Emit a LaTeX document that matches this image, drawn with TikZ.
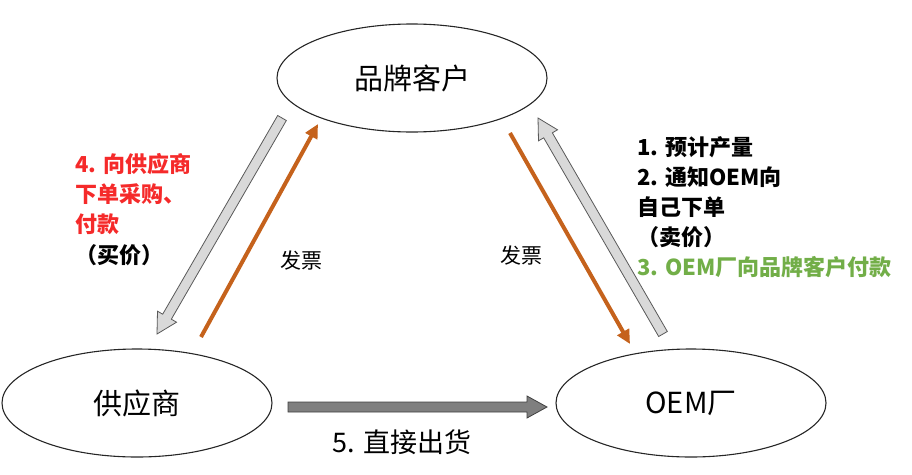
\documentclass[tikz,border=0pt]{standalone}
\usepackage{fontspec}
\setmainfont{Noto Sans CJK SC}
\usetikzlibrary{shapes.geometric,arrows.meta,calc}
\definecolor{invorange}{HTML}{C5621C}
\definecolor{payred}{HTML}{F52A2A}
\definecolor{paygreen}{HTML}{72AE48}
\definecolor{flowfill}{HTML}{D9D9D9}
\definecolor{shipfill}{HTML}{7F7F7F}
\tikzset{
  party/.style={draw=black!85, line width=1.1pt, ellipse, minimum width=270pt,
    minimum height=108pt, font=\fontsize{29}{32}\selectfont},
  note/.style={anchor=base west, align=left, inner sep=0pt,
    font=\fontsize{22}{30}\selectfont\bfseries},
  invoice/.style={draw=invorange, line width=4pt, -{Triangle[length=14pt,width=13pt]}},
  flow/.style={fill=flowfill, draw=black!65, line width=0.8pt},
}
% block arrow from #2 to #3
\newcommand{\blockarrow}[4][]{%
  \coordinate (hb) at ($(#3)!#4!(#2)$);
  \draw[#1] ($(#2)!5pt!90:(#3)$) -- ($(hb)!5pt!90:(#3)$) -- ($(hb)!11pt!90:(#3)$) --
    (#3) -- ($(hb)!11pt!-90:(#3)$) -- ($(hb)!5pt!-90:(#3)$) -- ($(#2)!5pt!-90:(#3)$) -- cycle;
}
\begin{document}
\begin{tikzpicture}[x=1pt,y=-1pt]
\useasboundingbox (0,0) rectangle (912,474);
% The three parties
\node[party] (brand) at (412,78) {品牌客户};
\node[party] (supplier) at (137,403) {供应商};
\node[party] (oem) at (691,403) {OEM厂};
% Order and payment arrows (grey)
\coordinate (ordA) at (282,118);
\coordinate (ordB) at (157,334);
\coordinate (notA) at (663,334);
\coordinate (notB) at (538,118);
\blockarrow[flow]{ordA}{ordB}{20pt}
\blockarrow[flow]{notA}{notB}{20pt}
% Invoices (orange)
\coordinate (invA) at (201,337);
\coordinate (invB) at (318,124);
\coordinate (invC) at (510,133);
\coordinate (invD) at (630,344);
\draw[invoice] (invA) -- node[pos=0.5, xshift=42pt, yshift=-30pt, black, font=\fontsize{21}{24}\selectfont] {发票} (invB);
\draw[invoice] (invC) -- node[pos=0.58, xshift=-58pt, black, font=\fontsize{21}{24}\selectfont] {发票} (invD);
% Direct shipment
\coordinate (shipA) at (288,407);
\coordinate (shipB) at (547,407);
\blockarrow[flow, fill=shipfill, draw=black!75]{shipA}{shipB}{20pt}
\node[font=\fontsize{27}{30}\selectfont] (ship) at (402,442) {5. 直接出货};
% Notes
\node[note, text=payred] (buy) at (75,232) {4. 向供应商\\下单采购、\\付款};
\node[note] (buyprice) at (75,263) {（买价）};
\node[note] (sell) at (637,245) {1. 预计产量\\2. 通知OEM向\\自己下单\\（卖价）};
\node[note, text=paygreen] (pay) at (637,275) {3. OEM厂向品牌客户付款};
\end{tikzpicture}
\end{document}
